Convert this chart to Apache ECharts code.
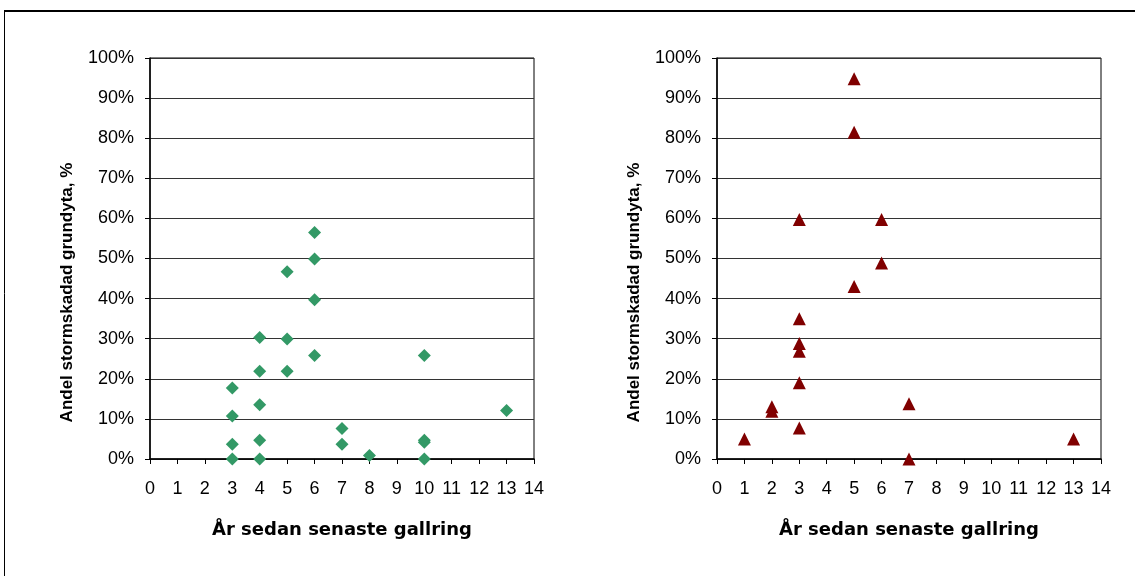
<!DOCTYPE html>
<html>
<head>
<meta charset="utf-8">
<script src="https://cdn.jsdelivr.net/npm/echarts@6/dist/echarts.min.js"></script>
<style>
html,body{margin:0;padding:0;background:#fff;}
#chart{width:1135px;height:576px;}
</style>
</head>
<body>
<div id="chart"></div>
<script>
// Left panel (green diamonds): [years since last thinning, % storm-damaged basal area]
const leftYears  = [3, 3, 3, 3, 4, 4, 4, 4, 4, 5, 5, 5, 6, 6, 6, 6, 7, 7, 8, 10, 10, 10, 10, 13];
const leftValues = [17.7, 10.7, 3.7, 0, 30.3, 21.9, 13.5, 4.7, 0, 46.7, 29.9, 21.9, 56.5, 49.9, 39.7, 25.8, 7.6, 3.7, 0.9, 25.8, 4.7, 4.2, 0, 12.1];

// Right panel (dark red triangles)
const rightYears  = [1, 2, 2, 3, 3, 3, 3, 3, 3, 5, 5, 5, 6, 6, 7, 7, 13];
const rightValues = [5.0, 13.0, 11.9, 59.7, 35.0, 28.8, 26.9, 19.0, 7.7, 94.8, 81.5, 43.0, 59.7, 48.9, 13.8, 0, 5.0];

const xTicks = [0,1,2,3,4,5,6,7,8,9,10,11,12,13,14];
const yTicks = [0,10,20,30,40,50,60,70,80,90,100];

const xTitle = 'År sedan senaste gallring';
const yTitle = 'Andel stormskadad grundyta, %';

function pairs(xs, ys){ return xs.map((x,i)=>[x, ys[i]]); }

const labelFont = {color:'#000', fontFamily:'Liberation Sans, Arial, sans-serif', fontSize:18};

function xAxisCfg(idx){
  return {
    gridIndex: idx, type:'value', min: xTicks[0], max: xTicks[xTicks.length-1], interval: 1,
    name: xTitle, nameLocation:'middle', nameGap: 62,
    nameTextStyle:{color:'#000', fontFamily:'DejaVu Sans, sans-serif', fontWeight:'bold', fontSize:18},
    axisLine:{show:true, onZero:false, lineStyle:{color:'#000', width:1.5}},
    axisTick:{show:true, inside:false, length:5, lineStyle:{color:'#000', width:1}},
    axisLabel:Object.assign({margin:21}, labelFont),
    splitLine:{show:false}
  };
}
function yAxisCfg(idx){
  return {
    gridIndex: idx, type:'value', min: yTicks[0], max: yTicks[yTicks.length-1], interval: 10,
    name: yTitle, nameLocation:'middle', nameGap: 74, nameRotate: 90,
    nameTextStyle:{color:'#000', fontFamily:'Liberation Sans, Arial, sans-serif', fontWeight:'bold', fontSize:17, padding:[0,68,0,0]},
    axisLine:{show:true, onZero:false, lineStyle:{color:'#000', width:1.5}},
    axisTick:{show:true, inside:false, length:5, lineStyle:{color:'#000', width:1}},
    axisLabel:Object.assign({margin:16, formatter:'{value}%'}, labelFont),
    splitLine:{show:true, lineStyle:{color:'#333', width:1}}
  };
}

const chart = echarts.init(document.getElementById('chart'), null, {renderer:'canvas'});
chart.setOption({
  backgroundColor:'#fff',
  animation:false,
  graphic:[
    {type:'line', shape:{x1:4, y1:11, x2:1135, y2:11}, style:{stroke:'#000', lineWidth:2}, silent:true},
    {type:'line', shape:{x1:4.5, y1:11, x2:4.5, y2:576}, style:{stroke:'#000', lineWidth:1}, silent:true}
  ],
  grid:[
    {left:150, top:58, width:384, height:401, show:true, borderColor:'#000', borderWidth:1, backgroundColor:'transparent'},
    {left:717, top:58, width:384, height:401, show:true, borderColor:'#000', borderWidth:1, backgroundColor:'transparent'}
  ],
  xAxis:[xAxisCfg(0), xAxisCfg(1)],
  yAxis:[yAxisCfg(0), yAxisCfg(1)],
  series:[
    {type:'scatter', xAxisIndex:0, yAxisIndex:0, data: pairs(leftYears, leftValues),
     symbol:'diamond', symbolSize:13, itemStyle:{color:'#339966', opacity:1}, clip:false, z:5},
    {type:'scatter', xAxisIndex:1, yAxisIndex:1, data: pairs(rightYears, rightValues),
     symbol:'triangle', symbolSize:13, itemStyle:{color:'#800000', opacity:1}, clip:false, z:5}
  ]
});
</script>
</body>
</html>
